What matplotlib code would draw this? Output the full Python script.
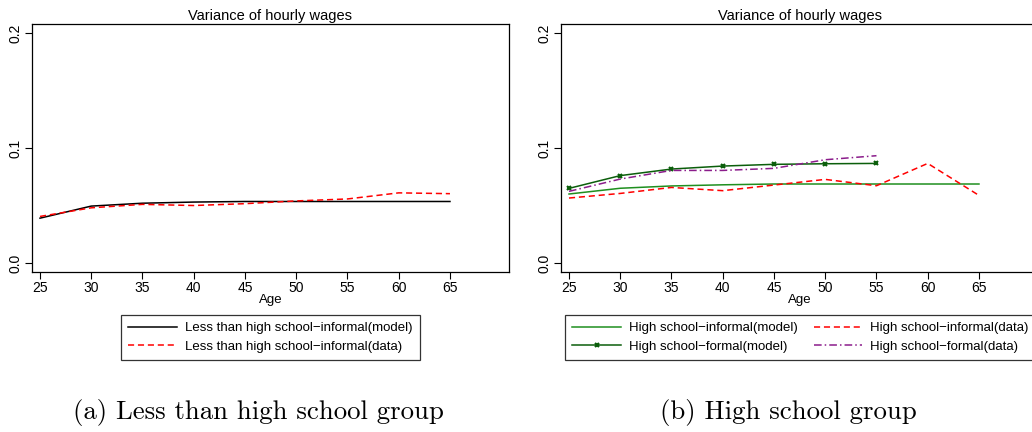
import matplotlib

matplotlib.use("Agg")
import matplotlib.pyplot as plt

# Age grid and simulated vs. observed variance of hourly wages
ages = [25, 30, 35, 40, 45, 50, 55, 60, 65]
ages_formal = [25, 30, 35, 40, 45, 50, 55]

lths_informal_model = [0.039, 0.0495, 0.052, 0.053, 0.0535, 0.0535, 0.0535, 0.0535, 0.0535]
lths_informal_data = [0.0405, 0.048, 0.051, 0.050, 0.0516, 0.054, 0.0557, 0.061, 0.0603]

hs_informal_model = [0.060, 0.065, 0.067, 0.068, 0.0687, 0.0687, 0.0687, 0.0687, 0.0687]
hs_formal_model = [0.0649, 0.076, 0.0817, 0.0843, 0.0858, 0.0863, 0.0866]
hs_informal_data = [0.0565, 0.0605, 0.0657, 0.0629, 0.0678, 0.0727, 0.0672, 0.0866, 0.0588]
hs_formal_data = [0.0623, 0.073, 0.0805, 0.0805, 0.0823, 0.0898, 0.0933]

x_ticks = [25, 30, 35, 40, 45, 50, 55, 60, 65]
y_ticks = [0.0, 0.1, 0.2]
y_tick_labels = ["0.0", "0.1", "0.2"]

plt.rcParams["font.family"] = ["Liberation Sans", "DejaVu Sans"]

W, H = 1032, 432
fig = plt.figure(figsize=(W / 100, H / 100), dpi=100)

legend_style = dict(
    bbox_transform=fig.transFigure, fontsize=9.5, frameon=True,
    fancybox=False, edgecolor="black", handlelength=3.7,
    handletextpad=0.6, borderpad=0.55, labelspacing=0.45,
    borderaxespad=0, numpoints=1,
)


def make_axes(left_px):
    ax = fig.add_axes([left_px / W, 1 - 272 / H, 477 / W, 248 / H])
    ax.set_xlim(24.22, 70.76)
    ax.set_ylim(-0.0078, 0.2078)
    ax.set_xticks(x_ticks)
    ax.set_yticks(y_ticks)
    ax.set_yticklabels(y_tick_labels, rotation=90, va="center")
    ax.tick_params(direction="out", length=5, width=0.8, labelsize=10, pad=1.5)
    for s in ax.spines.values():
        s.set_linewidth(0.9)
    ax.set_title("Variance of hourly wages", fontsize=10.5, pad=3)
    ax.set_xlabel("Age", fontsize=9.5, labelpad=-1)
    return ax


ax1 = make_axes(32)
ax1.plot(ages, lths_informal_model, color="black", lw=1.1,
         label="Less than high school\u2212informal(model)")
ax1.plot(ages, lths_informal_data, color="red", lw=1.1, ls=(0, (4, 2.5)),
         label="Less than high school\u2212informal(data)")
leg1 = ax1.legend(loc="upper center", bbox_to_anchor=(270.5 / W, 1 - 315 / H),
                  **legend_style)
leg1.get_frame().set_linewidth(0.9)

ax2 = make_axes(561)
ax2.plot(ages, hs_informal_model, color="#1f8f1f", lw=1.1,
         label="High school\u2212informal(model)")
ax2.plot(ages_formal, hs_formal_model, color="#0b5e0b", lw=1.1,
         marker="x", markersize=3.5, markeredgewidth=1.5,
         label="High school\u2212formal(model)")
ax2.plot(ages, hs_informal_data, color="red", lw=1.1, ls=(0, (4, 2.5)),
         label="High school\u2212informal(data)")
ax2.plot(ages, hs_formal_data + [None, None], color="#8b1c8b", lw=1.1,
         ls=(0, (5, 2, 1, 2)), label="High school\u2212formal(data)")
leg2 = ax2.legend(loc="upper left", bbox_to_anchor=(565 / W, 1 - 315 / H),
                  ncol=2, columnspacing=1.2, markerscale=0.8, **legend_style)
leg2.get_frame().set_linewidth(0.9)

fig.text(258 / W, 1 - 412 / H, "(a) Less than high school group",
         family="cmr10", fontsize=19.3, ha="center", va="center")
fig.text(788 / W, 1 - 412 / H, "(b) High school group",
         family="cmr10", fontsize=19.3, ha="center", va="center")

fig.savefig("out.png", dpi=100)
